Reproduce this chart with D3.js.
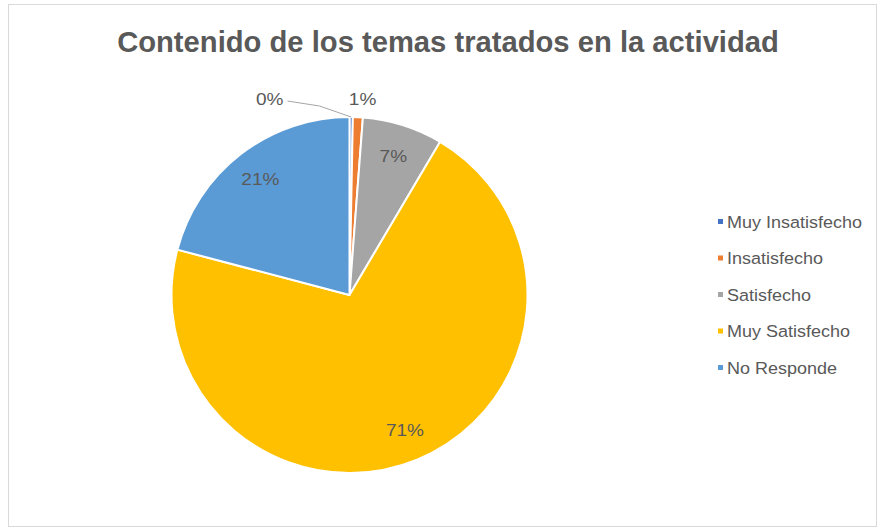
<!DOCTYPE html>
<html>
<head>
<meta charset="utf-8">
<script src="https://cdn.jsdelivr.net/npm/d3@7"></script>
<style>
  html, body { margin: 0; padding: 0; background: #fff; }
  svg { display: block; }
  text { font-family: "Liberation Sans", Arial, sans-serif; fill: #595959; }
</style>
</head>
<body>
<svg id="chart" width="878" height="529"></svg>
<script>
// Survey answers (percent of respondents)
const categories = ["Muy Insatisfecho", "Insatisfecho", "Satisfecho", "Muy Satisfecho", "No Responde"];
const values = [0.3, 0.9, 7.3, 70.6, 20.9];
const colors = ["#4472C4", "#ED7D31", "#A5A5A5", "#FFC000", "#5B9BD5"];
const title = "Contenido de los temas tratados en la actividad";

const svg = d3.select("#chart");
const W = 878, H = 529;

// chart frame
svg.append("rect")
  .attr("x", 8.5).attr("y", 4.5)
  .attr("width", W - 10).attr("height", H - 7)
  .attr("fill", "#fff").attr("stroke", "#d9d9d9").attr("stroke-width", 1);

// title
const t = svg.append("text")
  .attr("x", 448).attr("y", 52)
  .attr("text-anchor", "middle")
  .style("font-size", "25px").style("font-weight", "bold")
  .text(title);
const tw = t.node().getComputedTextLength();
if (tw > 0) t.style("font-size", (25 * 662 / tw).toFixed(2) + "px");

const total = d3.sum(values);
const data = categories.map((c, i) => ({ name: c, value: values[i], color: colors[i] }));

const cx = 349.5, cy = 295, R = 178;
const pie = d3.pie().value(d => d.value).sort(null);
const arcs = pie(data);
const arc = d3.arc().innerRadius(0).outerRadius(R);

const g = svg.append("g").attr("transform", `translate(${cx},${cy})`);
g.selectAll("path.slice")
  .data(arcs)
  .join("path")
  .attr("class", "slice")
  .attr("d", arc)
  .attr("fill", d => d.data.color)
  .attr("stroke", "#fff")
  .attr("stroke-width", 2)
  .attr("stroke-linejoin", "round");

const pct = d => Math.round(d.data.value / total * 100) + "%";

// percentage text, slightly widened like the rest of the chart's labels
function label(parent, x, y, anchor, txt) {
  return parent.append("text")
    .attr("transform", `translate(${x},${y}) scale(1.12,1)`)
    .attr("text-anchor", anchor).attr("dy", "0.35em")
    .style("font-size", "17px")
    .text(txt);
}

// inside labels for the larger slices
const labelArc = d3.arc().innerRadius(R * 0.82).outerRadius(R * 0.82);
arcs.forEach(d => {
  if (d.data.value / total >= 0.05) {
    const [x, y] = labelArc.centroid(d);
    label(g, x, y, "middle", pct(d));
  }
});

// outer labels: "0%" with leader line, "1%" just above its slice
const a0 = arcs[0], a1 = arcs[1];
const edge0 = d3.arc().innerRadius(R).outerRadius(R).centroid(a0);
g.append("polyline")
  .attr("points", [[-62, -194], [-30, -189], edge0].map(p => p.join(",")).join(" "))
  .attr("fill", "none").attr("stroke", "#a6a6a6").attr("stroke-width", 1);
label(g, -66, -196, "end", pct(a0));
const edge1 = d3.arc().innerRadius(R + 14).outerRadius(R + 14).centroid(a1);
label(g, edge1[0] + 4, -196, "middle", pct(a1));

// legend
const leg = svg.append("g").attr("transform", "translate(718,222)");
const rowH = 36.5;
data.forEach((d, i) => {
  const row = leg.append("g").attr("transform", `translate(0,${i * rowH})`);
  row.append("rect")
    .attr("x", 0).attr("y", -3).attr("width", 5).attr("height", 5)
    .attr("fill", d.color);
  row.append("text")
    .attr("transform", "translate(9,0) scale(1.06,1)")
    .attr("dy", "0.35em")
    .style("font-size", "17px")
    .text(d.name);
});
</script>
</body>
</html>
